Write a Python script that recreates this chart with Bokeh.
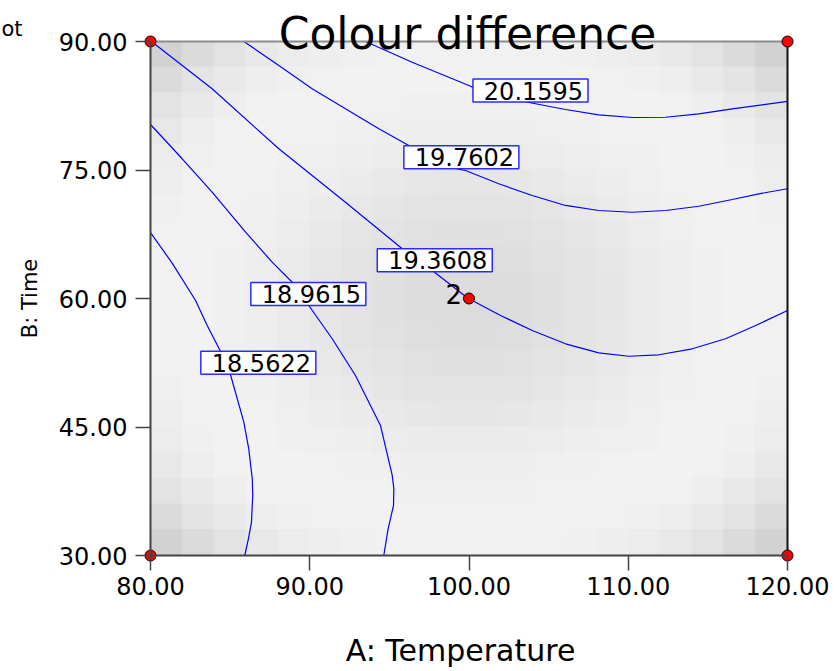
import math
from bokeh.plotting import figure
from bokeh.models import Range1d, FixedTicker, PrintfTickFormatter, LinearAxis
from bokeh.core.properties import value
from bokeh.embed import file_html
from bokeh.resources import INLINE

FONT = "DejaVu Sans"

# Axis ticks
temp_ticks = [80, 90, 100, 110, 120]
time_ticks = [30, 45, 60, 75, 90]

# Design points (factorial corners and replicated centre point)
design_temp = [80, 80, 120, 120, 100]
design_time = [30, 90, 30, 90, 60]
center_reps = "2"

# Contour levels of the response and their traced iso-lines (A: Temperature, B: Time)
levels = ["18.5622", "18.9615", "19.3608", "19.7602", "20.1595"]

c1_temp = [80.00, 81.36, 82.83, 83.56, 84.40, 85.02, 85.86, 86.17, 86.39, 86.42, 86.34, 86.15, 85.92]
c1_time = [67.70, 64.13, 59.77, 56.85, 53.81, 51.13, 45.56, 42.45, 38.95, 37.00, 33.89, 31.98, 30.00]

c2_temp = [80.00, 81.99, 83.87, 85.97, 87.64, 88.90, 89.94, 91.41, 92.87, 94.44, 95.18, 95.28,
           95.26, 94.92, 94.65]
c2_time = [80.31, 76.31, 72.41, 67.74, 64.24, 61.90, 59.18, 55.30, 51.01, 45.18, 39.34, 37.79,
           35.84, 33.11, 30.00]

c3_temp = [80.06, 83.87, 88.04, 92.24, 95.81, 97.69, 99.91, 101.98, 103.97, 106.06, 108.15,
           110.03, 111.92, 114.02, 116.11, 118.00, 120.00]
c3_time = [90.00, 84.48, 77.51, 71.24, 65.80, 63.27, 60.06, 58.02, 56.26, 54.71, 53.66,
           53.26, 53.43, 54.13, 55.30, 56.85, 58.60]

c4_temp = [85.86, 88.06, 90.15, 92.24, 94.34, 96.22, 99.26, 99.78, 101.87, 103.97, 106.06,
           108.15, 110.25, 112.34, 114.43, 116.53, 118.20, 120.00]
c4_time = [90.00, 87.20, 84.48, 82.14, 79.81, 77.86, 75.14, 74.94, 73.39, 72.02, 70.86,
           70.27, 70.07, 70.27, 70.77, 71.56, 72.22, 72.81]

c5_temp = [93.50, 96.43, 99.99, 100.26, 103.44, 106.06, 108.15, 110.25, 112.34, 114.43, 116.53, 120.00]
c5_time = [90.00, 87.58, 84.86, 84.63, 83.00, 82.06, 81.44, 81.13, 81.16, 81.56, 82.14, 83.00]

label_temp = [86.77, 89.91, 97.85, 99.52, 103.86]
label_time = [52.51, 60.53, 64.47, 76.50, 84.28]

# Standard-error shading, 20 x 20 cells, top row first (grey level 0-255)
shade = [
    [210, 219, 227, 232, 236, 238, 240, 241, 241, 241, 241, 241, 241, 240, 238, 236, 232, 227, 219, 210],
    [219, 228, 233, 238, 240, 241, 242, 242, 242, 242, 242, 242, 242, 242, 241, 240, 238, 233, 228, 219],
    [227, 233, 238, 241, 242, 242, 241, 241, 240, 240, 240, 240, 241, 241, 242, 242, 241, 238, 233, 227],
    [232, 238, 241, 242, 242, 241, 240, 239, 238, 238, 238, 238, 239, 240, 241, 242, 242, 241, 238, 232],
    [236, 240, 242, 242, 240, 239, 238, 236, 235, 234, 234, 235, 236, 238, 239, 240, 242, 242, 240, 236],
    [238, 241, 242, 241, 239, 237, 235, 233, 231, 230, 230, 231, 233, 235, 237, 239, 241, 242, 241, 238],
    [240, 242, 241, 240, 238, 235, 232, 229, 227, 227, 227, 227, 229, 232, 235, 238, 240, 241, 242, 240],
    [241, 242, 241, 239, 236, 233, 229, 227, 225, 224, 224, 225, 227, 229, 233, 236, 239, 241, 242, 241],
    [241, 242, 240, 238, 235, 231, 227, 225, 222, 221, 221, 222, 225, 227, 231, 235, 238, 240, 242, 241],
    [241, 242, 240, 238, 234, 230, 227, 224, 221, 220, 220, 221, 224, 227, 230, 234, 238, 240, 242, 241],
    [241, 242, 240, 238, 234, 230, 227, 224, 221, 220, 220, 221, 224, 227, 230, 234, 238, 240, 242, 241],
    [241, 242, 240, 238, 235, 231, 227, 225, 222, 221, 221, 222, 225, 227, 231, 235, 238, 240, 242, 241],
    [241, 242, 241, 239, 236, 233, 229, 227, 225, 224, 224, 225, 227, 229, 233, 236, 239, 241, 242, 241],
    [240, 242, 241, 240, 238, 235, 232, 229, 227, 227, 227, 227, 229, 232, 235, 238, 240, 241, 242, 240],
    [238, 241, 242, 241, 239, 237, 235, 233, 231, 230, 230, 231, 233, 235, 237, 239, 241, 242, 241, 238],
    [236, 240, 242, 242, 240, 239, 238, 236, 235, 234, 234, 235, 236, 238, 239, 240, 242, 242, 240, 236],
    [232, 238, 241, 242, 242, 241, 240, 239, 238, 238, 238, 238, 239, 240, 241, 242, 242, 241, 238, 232],
    [227, 233, 238, 241, 242, 242, 241, 241, 240, 240, 240, 240, 241, 241, 242, 242, 241, 238, 233, 227],
    [219, 228, 233, 238, 240, 241, 242, 242, 242, 242, 242, 242, 242, 242, 241, 240, 238, 233, 228, 219],
    [210, 219, 227, 232, 236, 238, 240, 241, 241, 241, 241, 241, 241, 240, 238, 236, 232, 227, 219, 210],
]

t_min, t_max = temp_ticks[0], temp_ticks[-1]
h_min, h_max = time_ticks[0], time_ticks[-1]

# Canvas geometry: the factor box sits at pixels 150..787 (x) and 41..555 (y)
W, H = 837, 671
BOX_L, BOX_R, BOX_T, BOX_B = 150, 787, 41, 555
kx = (BOX_R - BOX_L) / (t_max - t_min)
ky = (BOX_B - BOX_T) / (h_max - h_min)
x_lo = t_min - BOX_L / kx
x_hi = t_max + (W - BOX_R) / kx
y_lo = h_min - (H - BOX_B) / ky
y_hi = h_max + BOX_T / ky

p = figure(width=W, height=H, title=None,
           x_range=Range1d(x_lo, x_hi), y_range=Range1d(y_lo, y_hi),
           x_axis_location=None, y_axis_location=None,
           min_border=0, min_border_left=0, min_border_right=0,
           min_border_top=0, min_border_bottom=0,
           output_backend="svg", toolbar_location=None)
p.background_fill_color = "white"
p.border_fill_color = "white"
p.grid.visible = False
p.outline_line_color = None

# shaded cells
n_rows, n_cols = len(shade), len(shade[0])
dx = (t_max - t_min) / n_cols
dy = (h_max - h_min) / n_rows
left, right, bottom, top, colors = [], [], [], [], []
for r, row in enumerate(shade):
    for c, g in enumerate(row):
        left.append(t_min + c * dx)
        right.append(t_min + (c + 1) * dx)
        top.append(h_max - r * dy)
        bottom.append(h_max - (r + 1) * dy)
        colors.append("#%02x%02x%02x" % (g, g, g))
p.quad(left=left, right=right, bottom=bottom, top=top,
       fill_color=colors, line_color=colors, line_width=1)

# contour lines
for xs, ys in [(c1_temp, c1_time), (c2_temp, c2_time), (c3_temp, c3_time),
               (c4_temp, c4_time), (c5_temp, c5_time)]:
    p.line(xs, ys, line_color="#0000ff", line_width=1.2)

# contour value boxes
p.rect(x=label_temp, y=label_time, width=115, height=23,
       width_units="screen", height_units="screen",
       fill_color="white", line_color="#2b2bff", line_width=1.5)
p.text(x=label_temp, y=label_time, text=levels, x_offset=3,
       text_font=value(FONT), text_font_size="24px", text_color="black",
       text_align="center", text_baseline="middle")

# top and right edges of the factor box
p.segment(x0=[t_min], y0=[h_max], x1=[t_max], y1=[h_max], line_color="#8c8c8c", line_width=2)
p.segment(x0=[t_max], y0=[h_min], x1=[t_max], y1=[h_max], line_color="#111111", line_width=2)

# axes pinned to the edges of the factor box
xaxis = LinearAxis(fixed_location=h_min, bounds=(t_min, t_max))
yaxis = LinearAxis(fixed_location=t_min, bounds=(h_min, h_max))
for ax in (xaxis, yaxis):
    ax.axis_line_color = "#444444"
    ax.axis_line_width = 2
    ax.major_tick_line_color = "#444444"
    ax.major_tick_line_width = 1.5
    ax.major_tick_out = 15
    ax.major_tick_in = 0
    ax.minor_tick_line_color = None
    ax.major_label_text_font = FONT
    ax.major_label_text_font_size = "24px"
    ax.major_label_text_color = "black"
    ax.formatter = PrintfTickFormatter(format="%.2f")
xaxis.ticker = FixedTicker(ticks=temp_ticks)
yaxis.ticker = FixedTicker(ticks=time_ticks)
xaxis.major_label_standoff = 6
yaxis.major_label_standoff = 8
p.add_layout(xaxis, "below")
p.add_layout(yaxis, "left")

# centre replicate count
p.text(x=[design_temp[4]], y=[design_time[4]], text=[center_reps], x_offset=-7, y_offset=-5,
       text_font=value(FONT), text_font_size="26px", text_color="black",
       text_align="right", text_baseline="middle")

# design points
p.scatter(design_temp, design_time, size=11, fill_color="#ff0000",
          line_color="black", line_width=1)

# axis titles, chart title and corner caption
p.text(x=[x_lo + 460 / kx], y=[h_min - 95 / ky], text=["A: Temperature"],
       text_font=value(FONT), text_font_size="30px", text_color="black",
       text_align="center", text_baseline="middle")
p.text(x=[x_lo + 29 / kx], y=[60], text=["B: Time"], angle=math.pi / 2,
       text_font=value(FONT), text_font_size="21px", text_color="black",
       text_align="center", text_baseline="middle")
p.text(x=[x_lo + 467 / kx], y=[h_max + 8 / ky], text=["Colour difference"],
       text_font=value(FONT), text_font_size="44px", text_color="black",
       text_align="center", text_baseline="alphabetic")
p.text(x=[x_lo + 1 / kx], y=[h_max + 13 / ky], text=["ot"],
       text_font=value(FONT), text_font_size="21px", text_color="black",
       text_align="left", text_baseline="alphabetic")

open("out.html", "w").write(file_html(p, INLINE))
